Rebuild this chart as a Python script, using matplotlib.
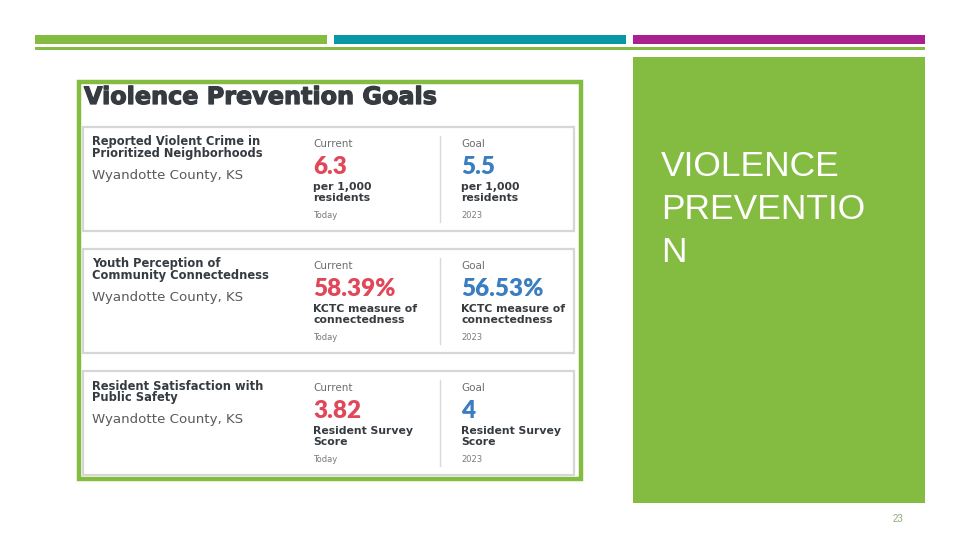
import matplotlib.pyplot as plt
import matplotlib.patheffects as pe
from matplotlib.patches import Rectangle

# slide content
card_titles = [["Reported Violent Crime in", "Prioritized Neighborhoods"],
               ["Youth Perception of", "Community Connectedness"],
               ["Resident Satisfaction with", "Public Safety"]]
county = "Wyandotte County, KS"
current_vals = ["6.3", "58.39%", "3.82"]
goal_vals = ["5.5", "56.53%", "4"]
units = [["per 1,000", "residents"],
         ["KCTC measure of", "connectedness"],
         ["Resident Survey", "Score"]]
current_when = "Today"
goal_when = "2023"
panel_lines = ["VIOLENCE", "PREVENTIO", "N"]
page_no = "23"

GREEN = '#84bc41'
TEAL = '#0897a5'
MAGENTA = '#a8218e'
RED = '#e0485a'
BLUE = '#3a7dc0'
DARK = '#353b40'

fig = plt.figure(figsize=(9.6, 5.4), dpi=100)
ax = fig.add_axes([0, 0, 1, 1])
ax.set_xlim(0, 960)
ax.set_ylim(540, 0)
ax.axis('off')

# header bars
for x0, c in zip([35, 334, 633], [GREEN, TEAL, MAGENTA]):
    ax.add_patch(Rectangle((x0, 35), 292, 8.5, color=c, lw=0))
ax.add_patch(Rectangle((35, 47), 890, 2.5, color=GREEN, lw=0))

# right green panel
ax.add_patch(Rectangle((633, 57), 292, 446, color=GREEN, lw=0))
for i, line in enumerate(panel_lines):
    ax.text(661, 166 + i * 43.5, line, color='white', fontsize=25.5,
            family='Liberation Sans', va='center', ha='left')

ax.text(898, 519, page_no, color='#8fa77a', fontsize=7, ha='center', va='center',
        family='Liberation Sans')

# picture frame
ax.add_patch(Rectangle((79, 82), 502, 397, facecolor='white', edgecolor=GREEN, lw=3.2))
ax.text(84, 97, "Violence Prevention Goals", color=DARK, fontsize=17.2,
        family='DejaVu Sans', weight='bold', va='center', ha='left',
        path_effects=[pe.withStroke(linewidth=0.9, foreground=DARK)])

light = dict(family='DejaVu Sans', weight='normal', va='center', ha='left')
bold = dict(family='DejaVu Sans', weight='bold', va='center', ha='left')

card_tops = [127, 249, 371]
for k, top in enumerate(card_tops):
    ax.add_patch(Rectangle((83, top), 491, 104, facecolor='white',
                           edgecolor='#d6d6d6', lw=1.6))
    ax.plot([440, 440], [top + 9, top + 95], color='#d9d9d9', lw=1)
    ax.text(92, top + 15, card_titles[k][0], color=DARK, fontsize=8.3, **bold)
    ax.text(92, top + 27, card_titles[k][1], color=DARK, fontsize=8.3, **bold)
    ax.text(92, top + 48, county, color='#5a5a5a', fontsize=9.6, **light)
    for x0, head, val, col, when in [(313, "Current", current_vals[k], RED, current_when),
                                     (461, "Goal", goal_vals[k], BLUE, goal_when)]:
        ax.text(x0, top + 17, head, color='#6e6e6e', fontsize=7.5, **light)
        ax.text(x0, top + 40, val, color=col, fontsize=17.5, family='Lato',
                weight='heavy', va='center', ha='left')
        ax.text(x0, top + 60, units[k][0], color=DARK, fontsize=7.8, **bold)
        ax.text(x0, top + 71, units[k][1], color=DARK, fontsize=7.8, **bold)
        ax.text(x0, top + 88, when, color='#7a7a7a', fontsize=6, **light)

fig.savefig('out.png', dpi=100)
